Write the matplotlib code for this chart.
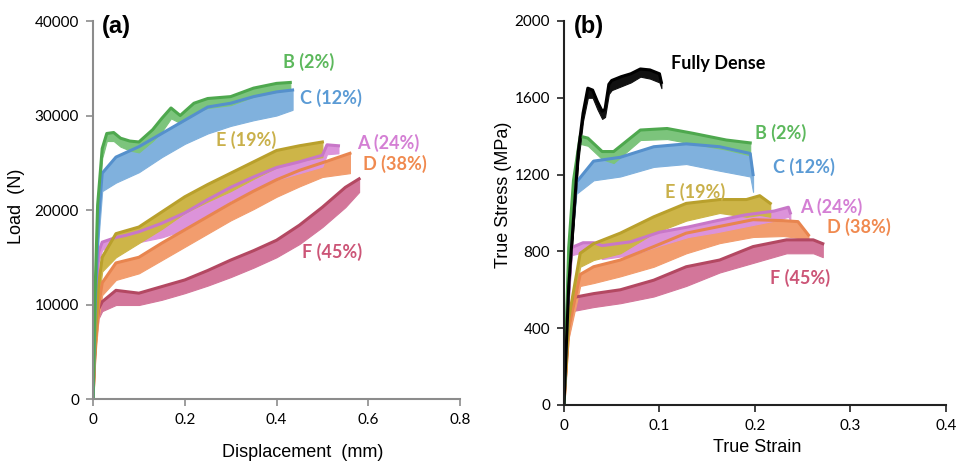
import matplotlib.pyplot as plt

# ---- panel (a): load vs displacement, band read as lower/upper envelope ----
disp_B = [0, 0.004, 0.01, 0.02, 0.03, 0.045, 0.06, 0.08, 0.1, 0.13, 0.15, 0.17, 0.19, 0.22, 0.25, 0.3, 0.35, 0.4, 0.43]
load_B_lo = [0, 9500, 19000, 25500, 27300, 27300, 26700, 26300, 26100, 27300, 28300, 29700, 29200, 30300, 30800, 31100, 32000, 32500, 32700]
load_B_hi = [0, 10500, 20500, 26500, 28100, 28200, 27600, 27300, 27200, 28500, 29700, 30800, 30000, 31300, 31800, 32000, 32900, 33400, 33500]

disp_C = [0, 0.005, 0.012, 0.02, 0.05, 0.1, 0.15, 0.2, 0.25, 0.3, 0.35, 0.4, 0.435]
load_C_lo = [0, 9000, 17000, 22000, 22900, 24000, 25600, 27000, 28100, 28900, 29500, 30000, 30600]
load_C_hi = [0, 10500, 19000, 23900, 25600, 26700, 28100, 29500, 30900, 31300, 32000, 32500, 32700]

disp_E = [0, 0.005, 0.012, 0.02, 0.05, 0.1, 0.15, 0.2, 0.25, 0.3, 0.35, 0.4, 0.45, 0.5]
load_E_lo = [0, 5500, 10500, 13500, 15000, 16500, 18000, 19700, 20900, 22000, 23300, 24500, 25200, 25600]
load_E_hi = [0, 6500, 12000, 15000, 17500, 18200, 19800, 21400, 22700, 23900, 25100, 26300, 26800, 27200]

disp_A = [0, 0.005, 0.012, 0.02, 0.05, 0.07, 0.1, 0.15, 0.2, 0.25, 0.3, 0.35, 0.4, 0.45, 0.5, 0.51, 0.535]
load_A_lo = [0, 7500, 14500, 15800, 16200, 16300, 16600, 17100, 17900, 19400, 21000, 22100, 23200, 23900, 24600, 25900, 26000]
load_A_hi = [0, 8500, 15500, 16600, 17100, 17300, 17700, 18600, 19700, 21100, 22400, 23500, 24500, 25100, 25800, 26900, 26800]

disp_D = [0, 0.005, 0.012, 0.02, 0.05, 0.1, 0.15, 0.2, 0.25, 0.3, 0.35, 0.4, 0.45, 0.5, 0.56]
load_D_lo = [0, 4500, 8500, 11000, 12600, 13300, 14700, 16100, 17500, 18900, 20100, 21400, 22500, 23500, 23900]
load_D_hi = [0, 5500, 9800, 12300, 14400, 15000, 16500, 17900, 19300, 20700, 22000, 23200, 24200, 25000, 26000]

disp_F = [0, 0.005, 0.012, 0.02, 0.05, 0.1, 0.15, 0.2, 0.25, 0.3, 0.35, 0.4, 0.45, 0.5, 0.55, 0.58]
load_F_lo = [0, 5500, 8500, 9300, 9950, 9950, 10500, 11200, 12000, 12900, 13900, 15000, 16400, 18200, 20300, 21900]
load_F_hi = [0, 6500, 9500, 10300, 11500, 11200, 11900, 12600, 13600, 14700, 15700, 16800, 18400, 20300, 22400, 23300]

# ---- panel (b): true stress vs true strain ----
strain_FD = [0, 0.005, 0.01, 0.015, 0.02, 0.025, 0.03, 0.035, 0.04, 0.043, 0.047, 0.05, 0.06, 0.07, 0.08, 0.09, 0.1, 0.102]
stress_FD_lo = [0, 580, 930, 1270, 1480, 1600, 1600, 1540, 1490, 1500, 1620, 1640, 1660, 1680, 1710, 1700, 1680, 1650]
stress_FD_hi = [0, 620, 970, 1320, 1520, 1650, 1640, 1580, 1530, 1540, 1670, 1690, 1710, 1725, 1750, 1745, 1725, 1680]

strain_B = [0, 0.005, 0.01, 0.017, 0.025, 0.04, 0.052, 0.08, 0.108, 0.135, 0.17, 0.195]
stress_B_lo = [0, 780, 1130, 1360, 1350, 1280, 1260, 1380, 1385, 1360, 1330, 1300]
stress_B_hi = [0, 820, 1170, 1400, 1390, 1320, 1320, 1432, 1440, 1415, 1380, 1365]

strain_C = [0, 0.005, 0.013, 0.031, 0.059, 0.094, 0.128, 0.163, 0.195, 0.198]
stress_C_lo = [0, 680, 1100, 1170, 1190, 1240, 1255, 1220, 1190, 1110]
stress_C_hi = [0, 720, 1160, 1270, 1290, 1345, 1360, 1345, 1310, 1200]

strain_E = [0, 0.005, 0.017, 0.031, 0.059, 0.094, 0.128, 0.163, 0.191, 0.205, 0.216]
stress_E_lo = [0, 400, 720, 755, 790, 895, 960, 1000, 980, 990, 980]
stress_E_hi = [0, 450, 790, 840, 895, 980, 1050, 1070, 1070, 1090, 1050]

strain_A = [0, 0.004, 0.008, 0.02, 0.031, 0.04, 0.07, 0.1, 0.13, 0.16, 0.19, 0.22, 0.235, 0.237]
stress_A_lo = [0, 450, 780, 795, 800, 760, 780, 830, 875, 900, 930, 960, 980, 960]
stress_A_hi = [0, 500, 820, 845, 845, 830, 850, 900, 927, 960, 990, 1010, 1030, 1000]

strain_D = [0, 0.005, 0.017, 0.031, 0.059, 0.094, 0.128, 0.163, 0.198, 0.23, 0.245, 0.256]
stress_D_lo = [0, 350, 620, 635, 670, 720, 790, 843, 875, 880, 870, 860]
stress_D_hi = [0, 400, 680, 720, 755, 825, 895, 930, 965, 960, 955, 885]

strain_F = [0, 0.004, 0.01, 0.031, 0.059, 0.094, 0.128, 0.163, 0.198, 0.233, 0.261, 0.271]
stress_F_lo = [0, 330, 490, 510, 530, 565, 620, 690, 740, 790, 790, 770]
stress_F_hi = [0, 380, 560, 580, 600, 650, 720, 755, 825, 860, 860, 840]

# light fill colour and darker upper-replicate colour for each sample
fill_colors = {
    "B": "#7cc47c", "C": "#80b1dd", "E": "#cdb548",
    "A": "#dc93da", "D": "#f29d6e", "F": "#d3769a", "FD": "#111111",
}
edge_colors = {
    "B": "#4ea84e", "C": "#5590cc", "E": "#b9a02c",
    "A": "#c877c8", "D": "#e8854f", "F": "#b34862", "FD": "#000000",
}
label_colors = {
    "B": "#5cb85c", "C": "#5b9bd5", "E": "#c9b04a",
    "A": "#d47fd4", "D": "#f08a50", "F": "#cc5577", "FD": "#000000",
}

names_a = ["A (24%)", "B (2%)", "C (12%)", "D (38%)", "E (19%)", "F (45%)"]
pos_a = {"B": (0.414, 35650), "C": (0.451, 31850), "E": (0.268, 27400),
         "A": (0.575, 27080), "D": (0.588, 24860), "F": (0.456, 15550)}
pos_b = {"FD": (0.112, 1781), "B": (0.200, 1417), "C": (0.219, 1240), "E": (0.106, 1109),
         "A": (0.247, 1031), "D": (0.275, 927), "F": (0.216, 661)}
text_b = {"FD": "Fully Dense", "A": "A (24%)", "B": "B (2%)", "C": "C (12%)",
          "D": "D (38%)", "E": "E (19%)", "F": "F (45%)"}

fig = plt.figure(figsize=(9.57, 4.63), dpi=100)
ax1 = fig.add_axes([0.0972, 0.1382, 0.3835, 0.8164])
ax2 = fig.add_axes([0.5893, 0.1253, 0.3992, 0.8294])

curves_a = [("F", disp_F, load_F_lo, load_F_hi), ("D", disp_D, load_D_lo, load_D_hi),
            ("A", disp_A, load_A_lo, load_A_hi), ("E", disp_E, load_E_lo, load_E_hi),
            ("C", disp_C, load_C_lo, load_C_hi), ("B", disp_B, load_B_lo, load_B_hi)]
curves_b = [("F", strain_F, stress_F_lo, stress_F_hi), ("D", strain_D, stress_D_lo, stress_D_hi),
            ("A", strain_A, stress_A_lo, stress_A_hi), ("E", strain_E, stress_E_lo, stress_E_hi),
            ("C", strain_C, stress_C_lo, stress_C_hi), ("B", strain_B, stress_B_lo, stress_B_hi),
            ("FD", strain_FD, stress_FD_lo, stress_FD_hi)]

for ax, curves in ((ax1, curves_a), (ax2, curves_b)):
    for key, x, lo, hi in curves:
        ax.fill_between(x, lo, hi, color=fill_colors[key], lw=0.8, edgecolor=fill_colors[key])
        ax.plot(x, hi, color=edge_colors[key], lw=2.2, solid_joinstyle="round")

lab_font = dict(family="Lato", fontweight="bold", fontsize=13, va="center", ha="left")
for key, (x, y) in pos_a.items():
    txt = [n for n in names_a if n.startswith(key)][0]
    ax1.text(x, y, txt, color=label_colors[key], **lab_font)
for key, (x, y) in pos_b.items():
    ax2.text(x, y, text_b[key], color=label_colors[key], **lab_font)

ax1.set_xlim(0, 0.8)
ax1.set_ylim(0, 40000)
ax1.set_xticks([0, 0.2, 0.4, 0.6, 0.8])
ax1.set_xticklabels(["0", "0.2", "0.4", "0.6", "0.8"])
ax1.set_yticks([0, 10000, 20000, 30000, 40000])
ax1.set_xlabel("Displacement  (mm)", fontsize=13, family="Liberation Sans")
ax1.set_ylabel("Load  (N)", fontsize=13, family="Liberation Sans")
ax1.xaxis.set_label_coords(0.572, -0.118)
ax1.yaxis.set_label_coords(-0.185, 0.51)

ax2.set_xlim(0, 0.4)
ax2.set_ylim(0, 2000)
ax2.set_xticks([0, 0.1, 0.2, 0.3, 0.4])
ax2.set_xticklabels(["0", "0.1", "0.2", "0.3", "0.4"])
ax2.set_yticks([0, 400, 800, 1200, 1600, 2000])
ax2.set_xlabel("True Strain", fontsize=13, family="Liberation Sans")
ax2.set_ylabel("True Stress (MPa)", fontsize=13, family="Liberation Sans")
ax2.xaxis.set_label_coords(0.505, -0.088)
ax2.yaxis.set_label_coords(-0.136, 0.547)

for ax, spc in ((ax1, "#8c8c8c"), (ax2, "#222222")):
    ax.spines["top"].set_visible(False)
    ax.spines["right"].set_visible(False)
    ax.spines["left"].set_color(spc)
    ax.spines["bottom"].set_color(spc)
    ax.spines["left"].set_linewidth(1.5)
    ax.spines["bottom"].set_linewidth(1.5)
    ax.tick_params(direction="out", length=5, width=1.2, color=spc, labelsize=11, pad=5)
    for t in ax.get_xticklabels() + ax.get_yticklabels():
        t.set_family("Lato")

ax1.text(0.025, 0.985, "(a)", transform=ax1.transAxes, fontsize=17, fontweight="bold",
         family="Liberation Sans", va="center", ha="left")
ax2.text(0.026, 0.985, "(b)", transform=ax2.transAxes, fontsize=17, fontweight="bold",
         family="Liberation Sans", va="center", ha="left")

fig.savefig("out.png", dpi=100)
